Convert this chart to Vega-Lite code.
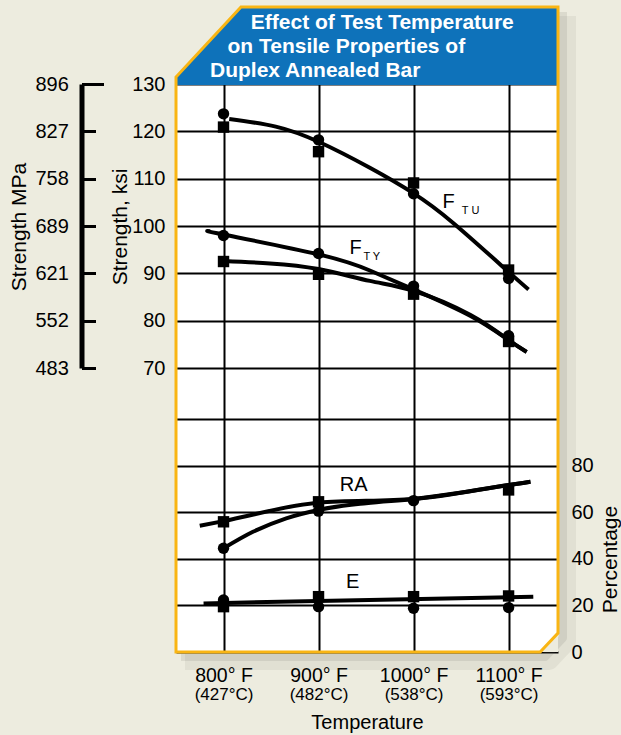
{
  "$schema": "https://vega.github.io/schema/vega-lite/v6.json",
  "width": 382,
  "height": 645,
  "autosize": {"type": "none"},
  "padding": {"left": 176, "top": 7, "right": 63, "bottom": 83},
  "background": "#edecdf",
  "config": {
    "font": "Liberation Sans",
    "view": {"fill": "white", "stroke": null},
    "axis": {"labelColor": "black", "titleColor": "black", "labelFlush": false, "labelOverlap": false, "titleFontWeight": "normal"}
  },
  "title": {
    "text": ["\u200b\u00a0\u00a0\u00a0\u00a0\u00a0\u00a0\u00a0Effect of Test Temperature", "\u200b\u00a0\u00a0\u00a0on Tensile Properties of", "Duplex Annealed Bar"],
    "anchor": "start", "frame": "group", "orient": "top", "offset": 0,
    "dx": 34, "dy": 97, "baseline": "alphabetic", "lineHeight": 24,
    "color": "white", "fontSize": 21, "fontWeight": "bold", "font": "Liberation Sans", "zindex": 1
  },
  "datasets": {
    "ksiCurves": [
      {"curve": "FTU", "T": 806, "v": 122.6}, {"curve": "FTU", "T": 855, "v": 121.0}, {"curve": "FTU", "T": 900, "v": 117.8},
      {"curve": "FTU", "T": 954, "v": 112.3}, {"curve": "FTU", "T": 1000, "v": 106.9}, {"curve": "FTU", "T": 1042, "v": 100.6},
      {"curve": "FTU", "T": 1100, "v": 90.3}, {"curve": "FTU", "T": 1121, "v": 86.6},
      {"curve": "FTY-1", "T": 786, "v": 98.9}, {"curve": "FTY-1", "T": 800, "v": 98.2}, {"curve": "FTY-1", "T": 900, "v": 94.0},
      {"curve": "FTY-1", "T": 954, "v": 90.6}, {"curve": "FTY-1", "T": 1000, "v": 86.6}, {"curve": "FTY-1", "T": 1060, "v": 81.0},
      {"curve": "FTY-1", "T": 1100, "v": 75.9}, {"curve": "FTY-1", "T": 1119, "v": 73.4},
      {"curve": "FTY-2", "T": 800, "v": 92.6}, {"curve": "FTY-2", "T": 849, "v": 92.1}, {"curve": "FTY-2", "T": 900, "v": 90.9},
      {"curve": "FTY-2", "T": 954, "v": 88.4}, {"curve": "FTY-2", "T": 1000, "v": 86.3}, {"curve": "FTY-2", "T": 1060, "v": 81.2},
      {"curve": "FTY-2", "T": 1100, "v": 75.9}, {"curve": "FTY-2", "T": 1119, "v": 73.4}
    ],
    "ksiPoints": [
      {"prop": "FTU", "set": "1", "T": 800, "v": 123.7}, {"prop": "FTU", "set": "1", "T": 900, "v": 118.2},
      {"prop": "FTU", "set": "1", "T": 1000, "v": 106.8}, {"prop": "FTU", "set": "1", "T": 1100, "v": 88.9},
      {"prop": "FTU", "set": "2", "T": 800, "v": 120.9}, {"prop": "FTU", "set": "2", "T": 900, "v": 115.7},
      {"prop": "FTU", "set": "2", "T": 1000, "v": 109.1}, {"prop": "FTU", "set": "2", "T": 1100, "v": 90.7},
      {"prop": "FTY", "set": "1", "T": 800, "v": 98.0}, {"prop": "FTY", "set": "1", "T": 900, "v": 94.2},
      {"prop": "FTY", "set": "1", "T": 1000, "v": 87.3}, {"prop": "FTY", "set": "1", "T": 1100, "v": 76.8},
      {"prop": "FTY", "set": "2", "T": 800, "v": 92.5}, {"prop": "FTY", "set": "2", "T": 900, "v": 89.8},
      {"prop": "FTY", "set": "2", "T": 1000, "v": 85.6}, {"prop": "FTY", "set": "2", "T": 1100, "v": 75.6}
    ],
    "pctCurves": [
      {"curve": "RA-2", "T": 775, "v": 54.3}, {"curve": "RA-2", "T": 800, "v": 56.3}, {"curve": "RA-2", "T": 900, "v": 64.2},
      {"curve": "RA-2", "T": 1000, "v": 65.8}, {"curve": "RA-2", "T": 1100, "v": 71.8}, {"curve": "RA-2", "T": 1123, "v": 73.2},
      {"curve": "RA-1", "T": 800, "v": 44.6}, {"curve": "RA-1", "T": 831, "v": 51.7}, {"curve": "RA-1", "T": 866, "v": 57.5},
      {"curve": "RA-1", "T": 900, "v": 61.1}, {"curve": "RA-1", "T": 950, "v": 64.0}, {"curve": "RA-1", "T": 1000, "v": 65.8},
      {"curve": "RA-1", "T": 1100, "v": 71.8}, {"curve": "RA-1", "T": 1123, "v": 73.2},
      {"curve": "E", "T": 779, "v": 20.9}, {"curve": "E", "T": 1126, "v": 23.8}
    ],
    "pctPoints": [
      {"prop": "RA", "set": "2", "T": 800, "v": 56.0}, {"prop": "RA", "set": "2", "T": 900, "v": 64.6}, {"prop": "RA", "set": "2", "T": 1100, "v": 69.7},
      {"prop": "RA", "set": "1", "T": 800, "v": 44.6}, {"prop": "RA", "set": "1", "T": 900, "v": 60.6}, {"prop": "RA", "set": "1", "T": 1000, "v": 65.1},
      {"prop": "E", "set": "2", "T": 800, "v": 19.5}, {"prop": "E", "set": "2", "T": 900, "v": 23.8},
      {"prop": "E", "set": "2", "T": 1000, "v": 23.8}, {"prop": "E", "set": "2", "T": 1100, "v": 24.1},
      {"prop": "E", "set": "1", "T": 800, "v": 22.4}, {"prop": "E", "set": "1", "T": 900, "v": 19.5},
      {"prop": "E", "set": "1", "T": 1000, "v": 18.8}, {"prop": "E", "set": "1", "T": 1100, "v": 19.1}
    ],
    "ksiLabels": [
      {"text": "F", "T": 1037, "v": 105.1}, {"text": "F", "T": 939, "v": 95.3}
    ],
    "ksiSubs": [
      {"text": "T U", "T": 1060, "v": 103.2}, {"text": "T Y", "T": 956, "v": 93.4}
    ],
    "pctLabels": [
      {"text": "RA", "T": 937, "v": 72.0}, {"text": "E", "T": 936, "v": 30.0}
    ],
    "panel": [
      {"T": 750, "T2": 1152, "v": 129.8, "v2": 146.27}
    ],
    "corners": [
      {"part": "tl", "T": 750, "lo": 131.48, "hi": 146.27}, {"part": "tl", "T": 818.4, "lo": 146.27, "hi": 146.27},
      {"part": "br", "T": 1133.2, "lo": 10, "hi": 10}, {"part": "br", "T": 1152, "lo": 10, "hi": 14.0}
    ],
    "frame": [
      {"o": 1, "T": 750, "v": 10}, {"o": 2, "T": 750, "v": 131.48}, {"o": 3, "T": 818.4, "v": 146.27},
      {"o": 4, "T": 1152, "v": 146.27}, {"o": 5, "T": 1152, "v": 14.0}, {"o": 6, "T": 1133.2, "v": 10},
      {"o": 7, "T": 750, "v": 10}
    ]
  },
  "layer": [
    {
      "data": {"name": "frame"},
      "transform": [{"filter": "datum.o >= 4"}],
      "mark": {"type": "line", "color": "#5e5c52", "strokeWidth": 18, "opacity": 0.08, "xOffset": 9, "yOffset": 9, "strokeJoin": "round"},
      "encoding": {
        "x": {"field": "T", "type": "quantitative", "scale": {"domain": [750, 1152], "nice": false, "zero": false}, "axis": null},
        "y": {"field": "v", "type": "quantitative", "scale": {"domain": [10, 146.27], "nice": false, "zero": false}, "axis": null},
        "order": {"field": "o", "type": "quantitative"}
      }
    },
    {
      "data": {"name": "frame"},
      "transform": [{"filter": "datum.o >= 4"}],
      "mark": {"type": "line", "color": "#5e5c52", "strokeWidth": 8, "opacity": 0.12, "xOffset": 5, "yOffset": 5, "strokeJoin": "round"},
      "encoding": {
        "x": {"field": "T", "type": "quantitative", "scale": {"domain": [750, 1152], "nice": false, "zero": false}, "axis": null},
        "y": {"field": "v", "type": "quantitative", "scale": {"domain": [10, 146.27], "nice": false, "zero": false}, "axis": null},
        "order": {"field": "o", "type": "quantitative"}
      }
    },
    {
      "data": {"name": "ksiCurves"},
      "mark": {"type": "line", "color": "black", "strokeWidth": 4, "interpolate": "natural"},
      "encoding": {
        "x": {"field": "T", "type": "quantitative", "scale": {"domain": [750, 1152], "nice": false, "zero": false},
          "axis": {"orient": "bottom", "values": [800, 900, 1000, 1100], "grid": true, "gridColor": "black", "gridWidth": 2, "gridOpacity": 1,
            "domain": false, "ticks": false, "labelExpr": "datum.value + '° F'", "labelFontSize": 19.5,
            "labelPadding": 29.7, "labelBaseline": "alphabetic", "title": null}},
        "y": {"field": "v", "type": "quantitative", "scale": {"domain": [10, 146.27], "nice": false, "zero": false},
          "axis": {"orient": "left", "values": [70, 80, 90, 100, 110, 120, 130], "grid": true, "gridColor": "black", "gridWidth": 2, "gridOpacity": 1,
            "domain": false, "ticks": false, "labelFontSize": 20, "labelPadding": 11,
            "title": "Strength, ksi", "titleFontSize": 21, "titleAngle": 270, "titleX": -49.3, "titleY": 219.5,
            "titleBaseline": "alphabetic", "titleAlign": "center"}},
        "detail": {"field": "curve"}
      }
    },
    {
      "data": {"name": "ksiPoints"},
      "mark": {"type": "point", "filled": true, "color": "black", "opacity": 1, "size": 130},
      "encoding": {
        "x": {"field": "T", "type": "quantitative", "scale": {"domain": [750, 1152], "nice": false, "zero": false}, "axis": null},
        "y": {"field": "v", "type": "quantitative", "scale": {"domain": [10, 146.27], "nice": false, "zero": false},
          "axis": {"orient": "left", "offset": 94.5, "values": [70, 80, 90, 100, 110, 120, 130], "grid": false,
            "domain": true, "domainColor": "black", "domainWidth": 5, "domainDash": [0, 284, 284, 300], "domainCap": "butt",
            "ticks": true, "tickSize": -14, "tickWidth": 3, "tickColor": "black",
            "labelExpr": "format(datum.value * 6.8948, '.0f')", "labelFontSize": 20, "labelPadding": 27.2,
            "title": "Strength MPa", "titleFontSize": 21, "titleAngle": 270, "titleX": -56.5, "titleY": 219.5,
            "titleBaseline": "alphabetic", "titleAlign": "center"}},
        "shape": {"field": "set", "type": "nominal", "scale": {"domain": ["1", "2"], "range": ["circle", "square"]}, "legend": null}
      }
    },
    {
      "data": {"name": "pctCurves"},
      "mark": {"type": "line", "color": "black", "strokeWidth": 4, "interpolate": "monotone"},
      "encoding": {
        "x": {"field": "T", "type": "quantitative", "scale": {"domain": [750, 1152], "nice": false, "zero": false},
          "axis": {"orient": "bottom", "values": [800, 900, 1000, 1100], "grid": false, "domain": false, "ticks": false,
            "labelExpr": "'(' + format((datum.value - 32) / 1.8, '.0f') + '°C)'", "labelFontSize": 17,
            "labelPadding": 47.8, "labelBaseline": "alphabetic",
            "title": "Temperature", "titleFontSize": 20, "titleBaseline": "alphabetic", "titleY": 76.3, "titleX": 191}},
        "y": {"field": "v", "type": "quantitative", "scale": {"domain": [0, 277.4], "nice": false, "zero": false},
          "axis": {"orient": "right", "values": [0, 20, 40, 60, 80, 100], "grid": true, "gridColor": "black", "gridWidth": 2, "gridOpacity": 1,
            "domain": false, "ticks": false, "labelFontSize": 20, "labelPadding": 13,
            "labelExpr": "datum.value <= 80 ? datum.label : ''",
            "title": "Percentage", "titleFontSize": 21, "titleAngle": 270, "titleX": 58, "titleY": 552,
            "titleBaseline": "alphabetic", "titleAlign": "center"}},
        "detail": {"field": "curve"}
      }
    },
    {
      "data": {"name": "pctPoints"},
      "mark": {"type": "point", "filled": true, "color": "black", "opacity": 1, "size": 130},
      "encoding": {
        "x": {"field": "T", "type": "quantitative", "scale": {"domain": [750, 1152], "nice": false, "zero": false}, "axis": null},
        "y": {"field": "v", "type": "quantitative", "scale": {"domain": [0, 277.4], "nice": false, "zero": false}, "axis": null},
        "shape": {"field": "set", "type": "nominal", "scale": {"domain": ["1", "2"], "range": ["circle", "square"]}, "legend": null}
      }
    },
    {
      "data": {"name": "ksiLabels"},
      "mark": {"type": "text", "fontSize": 20, "align": "center", "baseline": "middle", "color": "black"},
      "encoding": {
        "x": {"field": "T", "type": "quantitative", "scale": {"domain": [750, 1152], "nice": false, "zero": false}, "axis": null},
        "y": {"field": "v", "type": "quantitative", "scale": {"domain": [10, 146.27], "nice": false, "zero": false},
          "axis": {"orient": "left", "offset": 94.5, "values": [130], "grid": false, "domain": false, "labels": false,
            "ticks": true, "tickSize": -22, "tickWidth": 3, "tickColor": "black", "title": null}},
        "text": {"field": "text"}
      }
    },
    {
      "data": {"name": "ksiSubs"},
      "mark": {"type": "text", "fontSize": 11, "align": "center", "baseline": "middle", "color": "black"},
      "encoding": {
        "x": {"field": "T", "type": "quantitative", "scale": {"domain": [750, 1152], "nice": false, "zero": false}, "axis": null},
        "y": {"field": "v", "type": "quantitative", "scale": {"domain": [10, 146.27], "nice": false, "zero": false}, "axis": null},
        "text": {"field": "text"}
      }
    },
    {
      "data": {"name": "pctLabels"},
      "mark": {"type": "text", "fontSize": 20, "align": "center", "baseline": "middle", "color": "black"},
      "encoding": {
        "x": {"field": "T", "type": "quantitative", "scale": {"domain": [750, 1152], "nice": false, "zero": false}, "axis": null},
        "y": {"field": "v", "type": "quantitative", "scale": {"domain": [0, 277.4], "nice": false, "zero": false}, "axis": null},
        "text": {"field": "text"}
      }
    },
    {
      "data": {"name": "panel"},
      "mark": {"type": "rect", "color": "#0e72ba"},
      "encoding": {
        "x": {"field": "T", "type": "quantitative", "scale": {"domain": [750, 1152], "nice": false, "zero": false}, "axis": null},
        "x2": {"field": "T2"},
        "y": {"field": "v", "type": "quantitative", "scale": {"domain": [10, 146.27], "nice": false, "zero": false}, "axis": null},
        "y2": {"field": "v2"}
      }
    },
    {
      "data": {"name": "corners"},
      "mark": {"type": "area", "color": "#edecdf", "opacity": 1},
      "encoding": {
        "x": {"field": "T", "type": "quantitative", "scale": {"domain": [750, 1152], "nice": false, "zero": false}, "axis": null},
        "y": {"field": "lo", "type": "quantitative", "scale": {"domain": [10, 146.27], "nice": false, "zero": false}, "axis": null},
        "y2": {"field": "hi"},
        "detail": {"field": "part"}
      }
    },
    {
      "data": {"name": "frame"},
      "mark": {"type": "line", "color": "#f9b514", "strokeWidth": 3, "strokeJoin": "miter", "strokeCap": "square"},
      "encoding": {
        "x": {"field": "T", "type": "quantitative", "scale": {"domain": [750, 1152], "nice": false, "zero": false}, "axis": null},
        "y": {"field": "v", "type": "quantitative", "scale": {"domain": [10, 146.27], "nice": false, "zero": false}, "axis": null},
        "order": {"field": "o", "type": "quantitative"}
      }
    }
  ],
  "resolve": {
    "scale": {"x": "independent", "y": "independent"},
    "axis": {"x": "independent", "y": "independent"}
  }
}
